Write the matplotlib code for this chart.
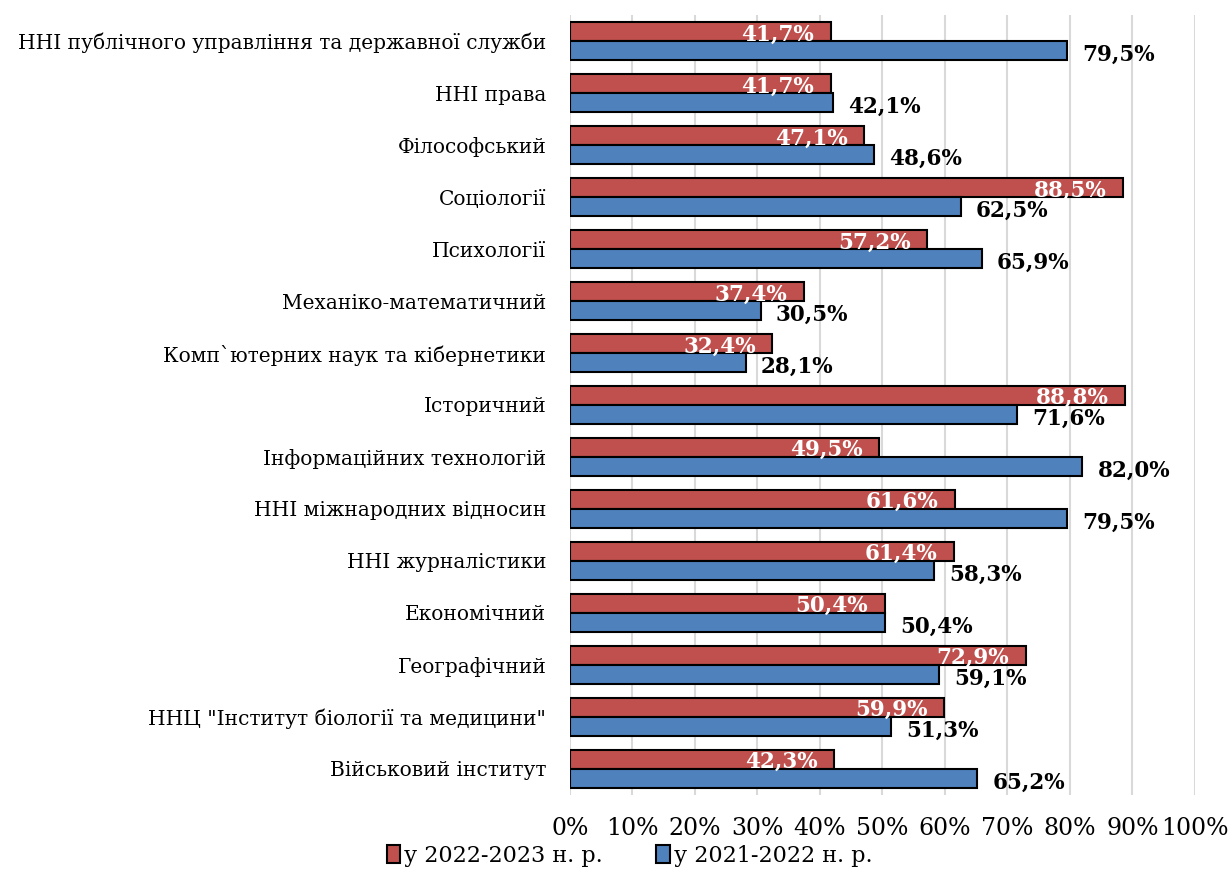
import numpy as np
import matplotlib
matplotlib.use('Agg')
from matplotlib import pyplot as plt
from matplotlib.ticker import FuncFormatter

# дані з діаграми (зверху вниз)
categories = [
    'ННІ публічного управління та державної служби',
    'ННІ права',
    'Філософський',
    'Соціології',
    'Психології',
    'Механіко-математичний',
    'Комп`ютерних наук та кібернетики',
    'Історичний',
    'Інформаційних технологій',
    'ННІ міжнародних відносин',
    'ННІ журналістики',
    'Економічний',
    'Географічний',
    'ННЦ "Інститут біології та медицини"',
    'Військовий інститут',
]
vals_2022_2023 = [41.7, 41.7, 47.1, 88.5, 57.2, 37.4, 32.4, 88.8, 49.5, 61.6, 61.4, 50.4, 72.9, 59.9, 42.3]
vals_2021_2022 = [79.5, 42.1, 48.6, 62.5, 65.9, 30.5, 28.1, 71.6, 82.0, 79.5, 58.3, 50.4, 59.1, 51.3, 65.2]
series_names = ['у 2022-2023 н. р.', 'у 2021-2022 н. р.']

plt.rcParams['font.family'] = ['DejaVu Serif']

fig = plt.figure(figsize=(12.3, 8.94), dpi=100)
ax = fig.add_axes([0.4634, 0.111, 0.5081, 0.872])

y = np.arange(len(categories))
h = 0.365
red = '#C0504D'
blue = '#4F81BD'

bars_r = ax.barh(y - h / 2, vals_2022_2023, height=h, color=red, edgecolor='black',
                 linewidth=1.5, label=series_names[0], zorder=3)
bars_b = ax.barh(y + h / 2, vals_2021_2022, height=h, color=blue, edgecolor='black',
                 linewidth=1.5, label=series_names[1], zorder=3)

def fmt(v):
    return f'{v:.1f}'.replace('.', ',') + '%'

for yi, v in zip(y, vals_2022_2023):
    ax.annotate(fmt(v), (v, yi - h / 2), xytext=(-12, -2), textcoords='offset points',
                ha='right', va='center', color='white', fontweight='bold', fontsize=15.5, zorder=4)
for yi, v in zip(y, vals_2021_2022):
    ax.annotate(fmt(v), (v, yi + h / 2), xytext=(11, -3), textcoords='offset points',
                ha='left', va='center', color='black', fontweight='bold', fontsize=15.5, zorder=4)

ax.set_xlim(0, 100)
ax.set_ylim(len(categories) - 0.5, -0.5)
ax.set_xticks(np.arange(0, 101, 10))
ax.xaxis.set_major_formatter(FuncFormatter(lambda x, p: f'{x:.0f}%'))
ax.set_yticks(y)
ax.set_yticklabels(categories, fontsize=14.5)
ax.tick_params(axis='both', length=0)
ax.tick_params(axis='x', pad=16, labelsize=17)
ax.tick_params(axis='y', pad=17)
ax.grid(axis='x', color='#D9D9D9', linewidth=1.5, zorder=0)
for s in ax.spines.values():
    s.set_visible(False)

fig.legend(handles=[bars_r, bars_b], labels=series_names, loc='center',
           bbox_to_anchor=(0.512, 0.043), ncol=2, frameon=False, fontsize=16,
           handlelength=0.6, handleheight=0.9, handletextpad=0.2, columnspacing=2.4)

fig.savefig('out.png', dpi=100)
